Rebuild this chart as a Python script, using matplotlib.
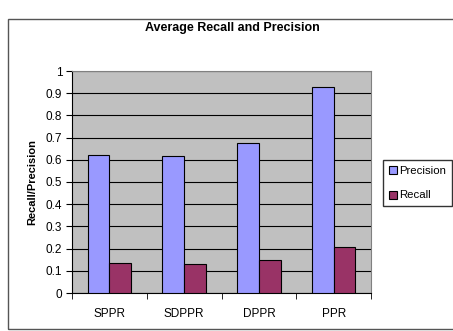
import numpy as np
import matplotlib.pyplot as plt
from matplotlib.patches import Rectangle

plt.rcParams['font.family'] = ['Liberation Sans', 'DejaVu Sans']

methods = ['SPPR', 'SDPPR', 'DPPR', 'PPR']
precision = [0.62, 0.615, 0.675, 0.93]
recall = [0.137, 0.132, 0.148, 0.208]

fig = plt.figure(figsize=(4.53, 3.31), dpi=100)
ax = fig.add_axes([72 / 453, 1 - 293 / 331, 299 / 453, 222 / 331])

# outer chart border
fig.patches.append(Rectangle((8 / 453, 2 / 331), 1.0, 1 - 2 / 331 - 19 / 331,
                             transform=fig.transFigure, fill=False,
                             edgecolor='#555555', linewidth=1.0))

x = np.arange(len(methods))
w = 0.29
ax.bar(x - w / 2, precision, w, color='#9999FF', edgecolor='black', linewidth=0.8,
       label='Precision', zorder=3)
ax.bar(x + w / 2, recall, w, color='#993366', edgecolor='black', linewidth=0.8,
       label='Recall', zorder=3)

ax.set_facecolor('#C0C0C0')
ax.set_xlim(-0.5, len(methods) - 0.5)
ax.set_ylim(0, 1)
ax.set_yticks(np.arange(0, 1.01, 0.1))
ax.set_yticklabels(['0', '0.1', '0.2', '0.3', '0.4', '0.5', '0.6', '0.7', '0.8', '0.9', '1'])
ax.yaxis.grid(True, color='black', linewidth=0.8, zorder=0)
ax.set_axisbelow(True)

# category labels centred, tick marks between groups
ax.set_xticks(x)
ax.set_xticklabels(methods)
ax.tick_params(axis='x', length=0, labelsize=8.5, pad=11)
ax.set_xticks(np.arange(-0.5, len(methods)), minor=True)
ax.tick_params(axis='x', which='minor', length=4, direction='out')
ax.tick_params(axis='y', length=4, labelsize=8.5, pad=3)

for side in ['top', 'right']:
    ax.spines[side].set_color('#808080')
    ax.spines[side].set_linewidth(0.8)
ax.spines['left'].set_linewidth(0.8)
ax.spines['bottom'].set_linewidth(0.8)

ax.set_ylabel('Recall/Precision', fontsize=8, fontweight='bold', labelpad=6)
fig.text(232 / 453, 1 - 28 / 331, 'Average Recall and Precision', ha='center',
         va='center', fontsize=9, fontweight='bold')

fig.legend(loc='upper left', bbox_to_anchor=(383 / 453, 1 - 160 / 331),
           fontsize=8.2, frameon=True, fancybox=False, edgecolor='black',
           handlelength=0.7, handleheight=0.7, handletextpad=0.25,
           borderpad=0.5, labelspacing=1.3, borderaxespad=0)

fig.savefig('out.png', dpi=100, facecolor='white')
